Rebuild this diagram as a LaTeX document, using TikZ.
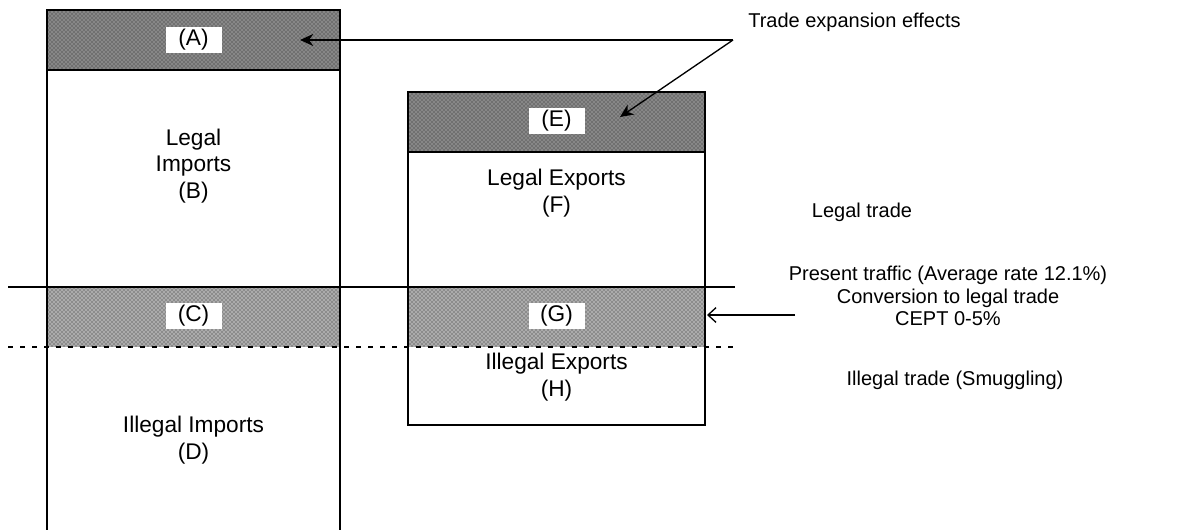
\documentclass[tikz,border=0pt]{standalone}
\usepackage{fontspec}
\setmainfont{Liberation Sans}
\usetikzlibrary{arrows.meta,patterns}
\begin{document}
\begin{tikzpicture}[x=0.75pt,y=-0.75pt,
  txt/.style={font=\fontsize{17pt}{20pt}\selectfont, align=center, inner sep=0pt},
  note/.style={font=\fontsize{15pt}{17pt}\selectfont, align=center, inner sep=0pt},
  tag/.style={txt, fill=white, minimum width=42pt, minimum height=20pt},
  darkband/.style={fill=black!47},
  lightband/.style={fill=black!33},
  grain/.style={pattern=crosshatch dots, pattern color=black!85},
  boxline/.style={line width=1.6pt},
  thinline/.style={line width=0.9pt},
  dashline/.style={line width=1.1pt, dash pattern=on 4pt off 5pt},
  arr/.style={line width=1pt, -{Stealth[length=10pt,width=9pt]}},
  barb/.style={line width=1pt, -{Straight Barb[length=6pt,width=11pt]}}
]
\useasboundingbox (0,0) rectangle (1203,530);

% shaded bands of the imports column
\fill[darkband] (47,10) rectangle (340,70);
\fill[grain] (47,10) rectangle (340,70);
\fill[lightband] (47,287) rectangle (340,347);
\fill[grain] (47,287) rectangle (340,347);
% shaded bands of the exports column
\fill[darkband] (408,92) rectangle (705,152);
\fill[grain] (408,92) rectangle (705,152);
\fill[lightband] (408,287) rectangle (705,347);
\fill[grain] (408,287) rectangle (705,347);

% dividing lines between legal and illegal trade
\draw[thinline] (8,287) -- (735,287);
\draw[dashline] (8,347) -- (738,347);

% imports column (open at the bottom)
\draw[boxline] (47,530) -- (47,10) -- (340,10) -- (340,530);
\draw[boxline] (47,70) -- (340,70);
% exports column
\draw[boxline] (408,92) rectangle (705,425);
\draw[boxline] (408,152) -- (705,152);

% band tags
\node[tag] (A) at (193.5,40) {(A)};
\node[tag] (C) at (193.5,316) {(C)};
\node[tag] (E) at (556.5,121) {(E)};
\node[tag] (G) at (556.5,316) {(G)};

% area labels
\node[txt] (B) at (193.5,166) {Legal\\Imports\\(B)};
\node[txt] (D) at (193.5,440) {Illegal Imports\\(D)};
\node[txt] (F) at (556.5,193) {Legal Exports\\(F)};
\node[txt] (H) at (556.5,377) {Illegal Exports\\(H)};

% side notes
\node[note, anchor=west] (tee) at (748,22) {Trade expansion effects};
\node[note] (legal) at (862,212) {Legal trade};
\node[note] (conv) at (948,296) {Present traffic (Average rate 12.1\%)\\Conversion to legal trade\\CEPT 0-5\%};
\node[note] (illegal) at (955,380) {Illegal trade (Smuggling)};

% arrows
\coordinate (fork) at (733,40);
\coordinate (tipA) at (300,40);
\coordinate (tipE) at (620,117);
\coordinate (gtail) at (795,315);
\coordinate (tipG) at (707,315);
\draw[arr] (fork) -- (tipA);
\draw[arr] (fork) -- (tipE);
\draw[barb] (gtail) -- (tipG);
\end{tikzpicture}
\end{document}
